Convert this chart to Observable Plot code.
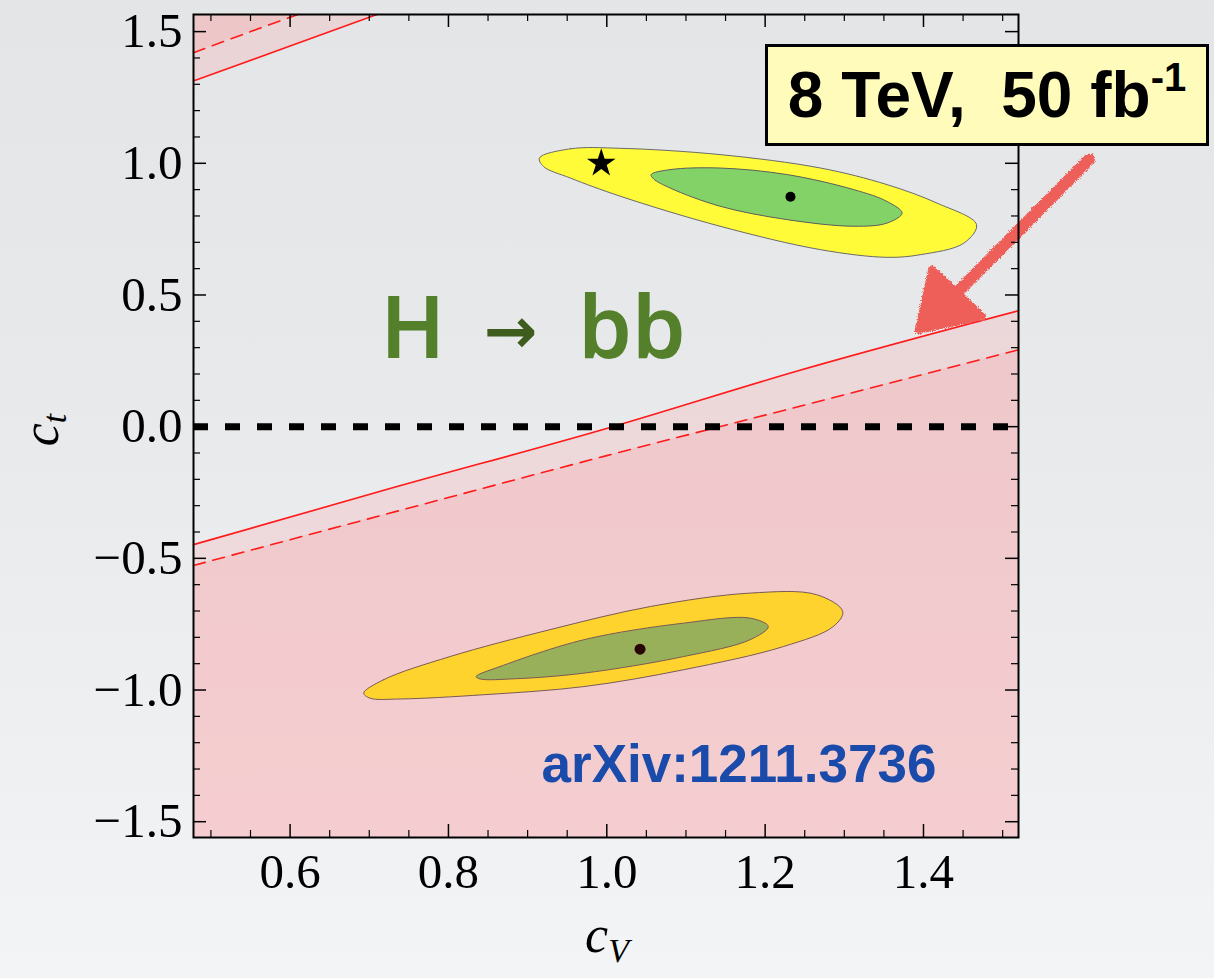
<!DOCTYPE html>
<html>
<head>
<meta charset="utf-8">
<script src="https://cdn.jsdelivr.net/npm/d3@7"></script>
<script src="https://cdn.jsdelivr.net/npm/@observablehq/plot@0.6"></script>
<style>
  html, body { margin: 0; padding: 0; }
  body { width: 1214px; height: 978px; overflow: hidden;
         background: linear-gradient(to bottom, #e4e5e7 0%, #e8e9eb 40%, #f3f4f5 100%); }
  #wrap { position: relative; width: 1214px; height: 978px; }
  #chart { position: absolute; left: 0; top: 0; }
  .lab { position: absolute; font-family: "Liberation Serif", "DejaVu Serif", serif; font-style: italic; color: #000; }
  #box { position: absolute; left: 765px; top: 44px; width: 438px; height: 96px;
         border: 3px solid #000; background: #fffcbb; box-sizing: content-box;
         font-family: "Liberation Sans", Arial, sans-serif; font-weight: bold; font-size: 64px;
         white-space: pre; text-align: center; line-height: 96px; color: #000; }
  #box sup { font-size: 40px; vertical-align: 0; position: relative; top: -26px; }
</style>
</head>
<body>
<div id="wrap">
  <div id="chart"></div>
  <div class="lab" style="left:6px; top:405px; width:70px; height:50px; transform: rotate(-90deg); transform-origin: 35px 25px; font-size:52px; line-height:50px; text-align:center;">c<span style="font-size:34px; position:relative; top:8px;">t</span></div>
  <div class="lab" style="left:572px; top:910px; width:70px; font-size:52px; line-height:50px; text-align:center;">c<span style="font-size:34px; position:relative; top:10px; font-style:italic;">V</span></div>
  <div id="box">8 TeV,  50 fb<sup>-1</sup></div>
</div>
<script>
// ---- axis ticks ----
const xMajor = [0.6, 0.8, 1.0, 1.2, 1.4];
const xMinor = [0.5, 0.55, 0.65, 0.7, 0.75, 0.85, 0.9, 0.95, 1.05, 1.1, 1.15, 1.25, 1.3, 1.35, 1.45, 1.5];
const yMajor = [-1.5, -1.0, -0.5, 0.0, 0.5, 1.0, 1.5];
const yMinor = [-1.4, -1.3, -1.2, -1.1, -0.9, -0.8, -0.7, -0.6, -0.4, -0.3, -0.2, -0.1,
                0.1, 0.2, 0.3, 0.4, 0.6, 0.7, 0.8, 0.9, 1.1, 1.2, 1.3, 1.4];

// ---- excluded-region boundaries (lower) ----
const cvSolid = [0.478, 0.724, 1.002, 1.244, 1.52];
const ctSolid = [-0.448, -0.237, -0.005, 0.214, 0.44];
const cvDashed = [0.478, 0.724, 1.0, 1.26, 1.52];
const ctDashed = [-0.527, -0.33, -0.11, 0.09, 0.292];
// ---- excluded-region boundaries (upper left corner) ----
const cvSolidTop = [0.478, 0.6, 0.71];
const ctSolidTop = [1.313, 1.445, 1.565];
const cvDashedTop = [0.478, 0.55, 0.61];
const ctDashedTop = [1.42, 1.50, 1.565];

// ---- contours ----
const cvYellowUp = [0.915, 0.954, 1.017, 1.143, 1.270, 1.354, 1.417, 1.467, 1.451, 1.396, 1.354, 1.270, 1.143, 1.017, 0.954, 0.920];
const ctYellowUp = [1.020, 1.055, 1.057, 1.033, 0.982, 0.919, 0.849, 0.767, 0.697, 0.653, 0.643, 0.672, 0.761, 0.875, 0.944, 0.988];
const cvGreenUp = [1.056, 1.080, 1.143, 1.228, 1.312, 1.354, 1.373, 1.354, 1.312, 1.228, 1.143, 1.080, 1.059];
const ctGreenUp = [0.957, 0.976, 0.982, 0.957, 0.900, 0.855, 0.811, 0.773, 0.761, 0.786, 0.837, 0.906, 0.941];
const cvYellowLow = [0.693, 0.718, 0.802, 0.928, 1.055, 1.181, 1.265, 1.298, 1.286, 1.223, 1.097, 0.971, 0.844, 0.739, 0.701];
const ctYellowLow = [-1.012, -0.961, -0.873, -0.771, -0.683, -0.632, -0.638, -0.702, -0.759, -0.835, -0.923, -0.987, -1.018, -1.034, -1.031];
const cvGreenLow = [0.835, 0.865, 0.971, 1.097, 1.181, 1.204, 1.181, 1.097, 0.971, 0.886, 0.840];
const ctGreenLow = [-0.949, -0.911, -0.809, -0.746, -0.727, -0.759, -0.809, -0.873, -0.936, -0.957, -0.958];

// ---- points ----
const smPoint = {cv: 0.993, ct: 1.0};
const bestUp = {cv: 1.232, ct: 0.873};
const bestLow = {cv: 1.042, ct: -0.845};

// ---- annotations (data coordinates) ----
const labelParts = ["H", "\u2192", "bb"];
const labelCv = [0.755, 0.878, 1.032];
const labelCt = 0.364;
const refText = "arXiv:1211.3736";
const refPos = {cv: 1.167, ct: -1.284};
const arrowShaft = [{cv: 1.609, ct: 1.014}, {cv: 1.442, ct: 0.508}];
const arrowHead = [{cv: 1.411, ct: 0.596}, {cv: 1.394, ct: 0.368}, {cv: 1.474, ct: 0.419}];

const xDomain = [0.478, 1.52];
const yDomain = [-1.56, 1.565];

const zip = (xs, ys) => xs.map((x, i) => ({cv: x, ct: ys[i]}));
const solid = zip(cvSolid, ctSolid);
const dashed = zip(cvDashed, ctDashed);
const solidTop = zip(cvSolidTop, ctSolidTop);
const dashedTop = zip(cvDashedTop, ctDashedTop);

const M = {left: 193, right: 196, top: 14, bottom: 141};
const W = 1214, H = 978;
const frameH = H - M.top - M.bottom;
const frameW = W - M.left - M.right;
const pink = "#ff8a90", pinkOp = 0.19;
const red = "#ff1a1a";
const chalk = "#ee5f5a";

const plot = Plot.plot({
  width: W, height: H,
  marginLeft: M.left, marginRight: M.right, marginTop: M.top, marginBottom: M.bottom,
  x: {domain: xDomain},
  y: {domain: yDomain},
  style: {background: "transparent", overflow: "visible", color: "#000"},
  marks: [
    // excluded regions
    Plot.areaY(solid, {x: "cv", y1: yDomain[0], y2: "ct", curve: "monotone-x", fill: pink, fillOpacity: pinkOp}),
    Plot.areaY(dashed, {x: "cv", y1: yDomain[0], y2: "ct", curve: "monotone-x", fill: pink, fillOpacity: pinkOp}),
    Plot.areaY(solidTop, {x: "cv", y1: "ct", y2: yDomain[1], curve: "monotone-x", fill: pink, fillOpacity: pinkOp}),
    Plot.areaY(dashedTop, {x: "cv", y1: "ct", y2: yDomain[1], curve: "monotone-x", fill: pink, fillOpacity: pinkOp}),
    Plot.line(solid, {x: "cv", y: "ct", curve: "monotone-x", stroke: red, strokeWidth: 1.6}),
    Plot.line(dashed, {x: "cv", y: "ct", curve: "monotone-x", stroke: red, strokeWidth: 1.6, strokeDasharray: "12,8"}),
    Plot.line(solidTop, {x: "cv", y: "ct", curve: "monotone-x", stroke: red, strokeWidth: 1.6}),
    Plot.line(dashedTop, {x: "cv", y: "ct", curve: "monotone-x", stroke: red, strokeWidth: 1.6, strokeDasharray: "12,8"}),
    // ct = 0
    Plot.ruleY([0], {stroke: "#000", strokeWidth: 7, strokeDasharray: "15,17"}),
    // contours
    Plot.line(zip(cvYellowUp, ctYellowUp), {x: "cv", y: "ct", curve: "catmull-rom-closed", fill: "#fffb38", stroke: "#6a6a6a", strokeWidth: 1}),
    Plot.line(zip(cvGreenUp, ctGreenUp), {x: "cv", y: "ct", curve: "catmull-rom-closed", fill: "#82d268", stroke: "#5d5d5d", strokeWidth: 1}),
    Plot.line(zip(cvYellowLow, ctYellowLow), {x: "cv", y: "ct", curve: "catmull-rom-closed", fill: "#fed32e", stroke: "#7a5a55", strokeWidth: 1}),
    Plot.line(zip(cvGreenLow, ctGreenLow), {x: "cv", y: "ct", curve: "catmull-rom-closed", fill: "#98b05a", stroke: "#7a5a55", strokeWidth: 1}),
    Plot.dot([smPoint], {x: "cv", y: "ct", symbol: "star", r: 9, fill: "#000", stroke: null}),
    Plot.dot([bestUp], {x: "cv", y: "ct", r: 5, fill: "#000", stroke: null}),
    Plot.dot([bestLow], {x: "cv", y: "ct", r: 5.5, fill: "#2a0505", stroke: null}),
    // labels
    Plot.text([labelParts[0], labelParts[2]], {x: (d, i) => [labelCv[0], labelCv[2]][i], y: labelCt, text: d => d,
      fill: "#54802c", fontSize: 86, fontFamily: "'Comic Sans MS', 'Noto Sans', 'DejaVu Sans', sans-serif", fontWeight: 600}),
    Plot.text([labelParts[1]], {x: labelCv[1], y: labelCt, text: d => d,
      fill: "#3d5c1e", fontSize: 64, fontFamily: "'DejaVu Sans', sans-serif", fontWeight: "bold", dy: 2}),
    Plot.text([refText], {x: refPos.cv, y: refPos.ct, text: d => d, fill: "#1a4aaa", fontSize: 53,
      fontFamily: "'Liberation Sans', Arial, sans-serif", fontWeight: "bold"}),
    // hand-drawn arrow
    Plot.line(arrowShaft, {x: "cv", y: "ct", stroke: chalk, strokeWidth: 12, strokeLinecap: "round"}),
    Plot.line(arrowHead, {x: "cv", y: "ct", curve: "linear-closed", fill: chalk, stroke: chalk, strokeWidth: 8, strokeLinejoin: "round"}),
    // frame + inward ticks on all four sides
    Plot.frame({stroke: "#000", strokeWidth: 2}),
    Plot.tickX(xMajor, {x: d => d, insetTop: frameH - 13, stroke: "#000", strokeWidth: 1.5}),
    Plot.tickX(xMinor, {x: d => d, insetTop: frameH - 7, stroke: "#000", strokeWidth: 1.2}),
    Plot.tickX(xMajor, {x: d => d, insetBottom: frameH - 13, stroke: "#000", strokeWidth: 1.5}),
    Plot.tickX(xMinor, {x: d => d, insetBottom: frameH - 7, stroke: "#000", strokeWidth: 1.2}),
    Plot.tickY(yMajor, {y: d => d, insetRight: frameW - 13, stroke: "#000", strokeWidth: 1.5}),
    Plot.tickY(yMinor, {y: d => d, insetRight: frameW - 7, stroke: "#000", strokeWidth: 1.2}),
    Plot.tickY(yMajor, {y: d => d, insetLeft: frameW - 13, stroke: "#000", strokeWidth: 1.5}),
    Plot.tickY(yMinor, {y: d => d, insetLeft: frameW - 7, stroke: "#000", strokeWidth: 1.2}),
    Plot.axisX({ticks: xMajor, tickFormat: d3.format(".1f"), tickSize: 0, tickPadding: 16, fontSize: 49,
      fontFamily: "'Liberation Serif', 'DejaVu Serif', serif", label: null}),
    Plot.axisY({ticks: yMajor, tickFormat: d3.format(".1f"), tickSize: 0, tickPadding: 11, fontSize: 49,
      fontFamily: "'Liberation Serif', 'DejaVu Serif', serif", label: null})
  ]
});

// chalk texture for the hand-drawn arrow
const ns = "http://www.w3.org/2000/svg";
const defs = document.createElementNS(ns, "defs");
defs.innerHTML = `<filter id="chalk" x="-20%" y="-20%" width="140%" height="140%">
  <feTurbulence type="fractalNoise" baseFrequency="0.9" numOctaves="2" seed="3" result="noise"/>
  <feDisplacementMap in="SourceGraphic" in2="noise" scale="5" xChannelSelector="R" yChannelSelector="G"/>
</filter>`;
plot.insertBefore(defs, plot.firstChild);
plot.querySelectorAll(`g[stroke="${chalk}"]`).forEach(g => g.setAttribute("filter", "url(#chalk)"));

document.getElementById("chart").appendChild(plot);
</script>
</body>
</html>
